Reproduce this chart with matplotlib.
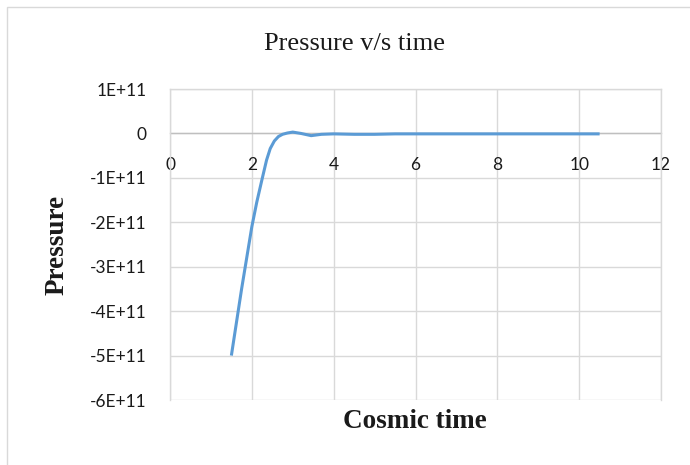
import matplotlib
matplotlib.use('Agg')
import matplotlib.pyplot as plt
from matplotlib.patches import Rectangle

# values
cosmic_time = [1.5, 1.75, 2.0, 2.12, 2.25, 2.36, 2.45, 2.55, 2.65, 2.75, 2.87, 3.0,
               3.2, 3.45, 3.7, 4.0, 4.5, 5.0, 5.5, 6.0, 7.0, 8.0, 9.0, 10.0, 10.5]
pressure = [-5.0e11, -3.5e11, -2.1e11, -1.55e11, -1.03e11, -0.6e11, -0.34e11,
            -0.17e11, -0.07e11, -0.02e11, 0.01e11, 0.03e11, 0.0, -0.05e11,
            -0.02e11, -0.01e11, -0.02e11, -0.02e11, -0.01e11, -0.01e11,
            -0.01e11, -0.01e11, -0.01e11, -0.01e11, -0.01e11]

y_ticks = [1e11, 0, -1e11, -2e11, -3e11, -4e11, -5e11, -6e11]
y_tick_labels = ['1E+11', '0', '-1E+11', '-2E+11', '-3E+11', '-4E+11', '-5E+11', '-6E+11']
x_ticks = [0, 2, 4, 6, 8, 10, 12]

grid_col = '#d9d9d9'
line_col = '#5b9bd5'

fig = plt.figure(figsize=(6.9, 4.65), dpi=100)
# chart border (cropped on right/bottom like the screenshot)
fig.patches.append(Rectangle((7/690, -0.1), 1.2, 1 - 7/465 + 0.1,
                             transform=fig.transFigure, fill=False,
                             edgecolor=grid_col, lw=1.0))

ax = fig.add_axes([170/690, 1 - 400/465, (661 - 170)/690, (400 - 89)/465])
ax.plot(cosmic_time, pressure, color=line_col, lw=2.2, solid_joinstyle='round',
        solid_capstyle='butt', zorder=3)

ax.set_xlim(0, 12)
ax.set_ylim(-6e11, 1e11)
ax.set_xticks(x_ticks)
ax.set_yticks(y_ticks)
ax.set_yticklabels(y_tick_labels)
ax.grid(True, color=grid_col, lw=1.0)
ax.set_axisbelow(True)

for s in ['top', 'right', 'left']:
    ax.spines[s].set_color(grid_col)
    ax.spines[s].set_linewidth(1.0)
ax.spines['bottom'].set_position(('data', 0))
ax.spines['bottom'].set_color('#bfbfbf')
ax.spines['bottom'].set_linewidth(1.0)
ax.spines['bottom'].set_zorder(2)

ax.tick_params(axis='both', length=0, labelsize=12.5, labelcolor='#1a1a1a')
ax.tick_params(axis='x', pad=17)
ax.tick_params(axis='y', pad=17)
for lab in ax.get_xticklabels() + ax.get_yticklabels():
    lab.set_family('Lato')

fig.text(355/690, 1 - 44/465, 'Pressure v/s time', ha='center', va='center',
         family='Liberation Serif', fontsize=19, color='#1a1a1a')
fig.text(415/690, 1 - 422/465, 'Cosmic time', ha='center', va='center',
         family='Liberation Serif', fontweight='bold', fontsize=19.5, color='#1a1a1a')
fig.text(57/690, 1 - 245/465, 'Pressure', ha='center', va='center', rotation=90,
         family='Liberation Serif', fontweight='bold', fontsize=19.5, color='#1a1a1a')

fig.savefig('out.png', dpi=100)
